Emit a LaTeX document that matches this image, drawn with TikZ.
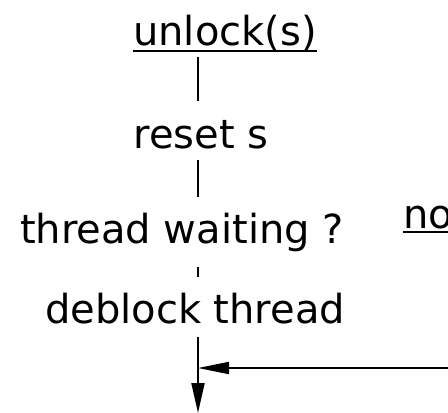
\documentclass[tikz,border=0pt]{standalone}
\usepackage{fontspec}
\setmainfont{DejaVu Sans}
\usetikzlibrary{arrows.meta}
\begin{document}
\begin{tikzpicture}[x=1pt,y=-1pt,
  lbl/.style={inner sep=0pt,anchor=base,font=\fontsize{40}{48}\selectfont},
  conn/.style={line width=2pt},
  arr/.style={line width=2pt,-{Triangle[length=30pt,width=13pt]}}]
\useasboundingbox (0,0) rectangle (448,413);
\clip (0,0) rectangle (448,413);
\node[lbl] (unlock) at (225,45) {unlock(s)};
\node[lbl] (reset) at (201,148) {reset s};
\node[lbl] (wait) at (182,243) {thread waiting ?};
\node[lbl] (deblock) at (195,323) {deblock thread};
\node[lbl,anchor=base west] (no) at (403,228) {no};
\draw[line width=2pt] (unlock.base west |- 0,51) -- (unlock.base east |- 0,51);
\draw[line width=2pt] (no.base west |- 0,232) -- (460,232);
\coordinate (a1) at (198,57);
\coordinate (a2) at (198,101);
\coordinate (b1) at (198,160);
\coordinate (b2) at (198,197);
\coordinate (c1) at (198,267);
\coordinate (c2) at (198,277);
\coordinate (d1) at (198,337);
\coordinate (d2) at (198,413);
\coordinate (join) at (198,368);
\coordinate (right) at (449,368);
\draw[conn] (a1) -- (a2);
\draw[conn] (b1) -- (b2);
\draw[conn] (c1) -- (c2);
\draw[arr] (d1) -- (d2);
\draw[line width=2pt,-{Triangle[length=31pt,width=12pt]}] (right) -- (join);
\end{tikzpicture}
\end{document}
